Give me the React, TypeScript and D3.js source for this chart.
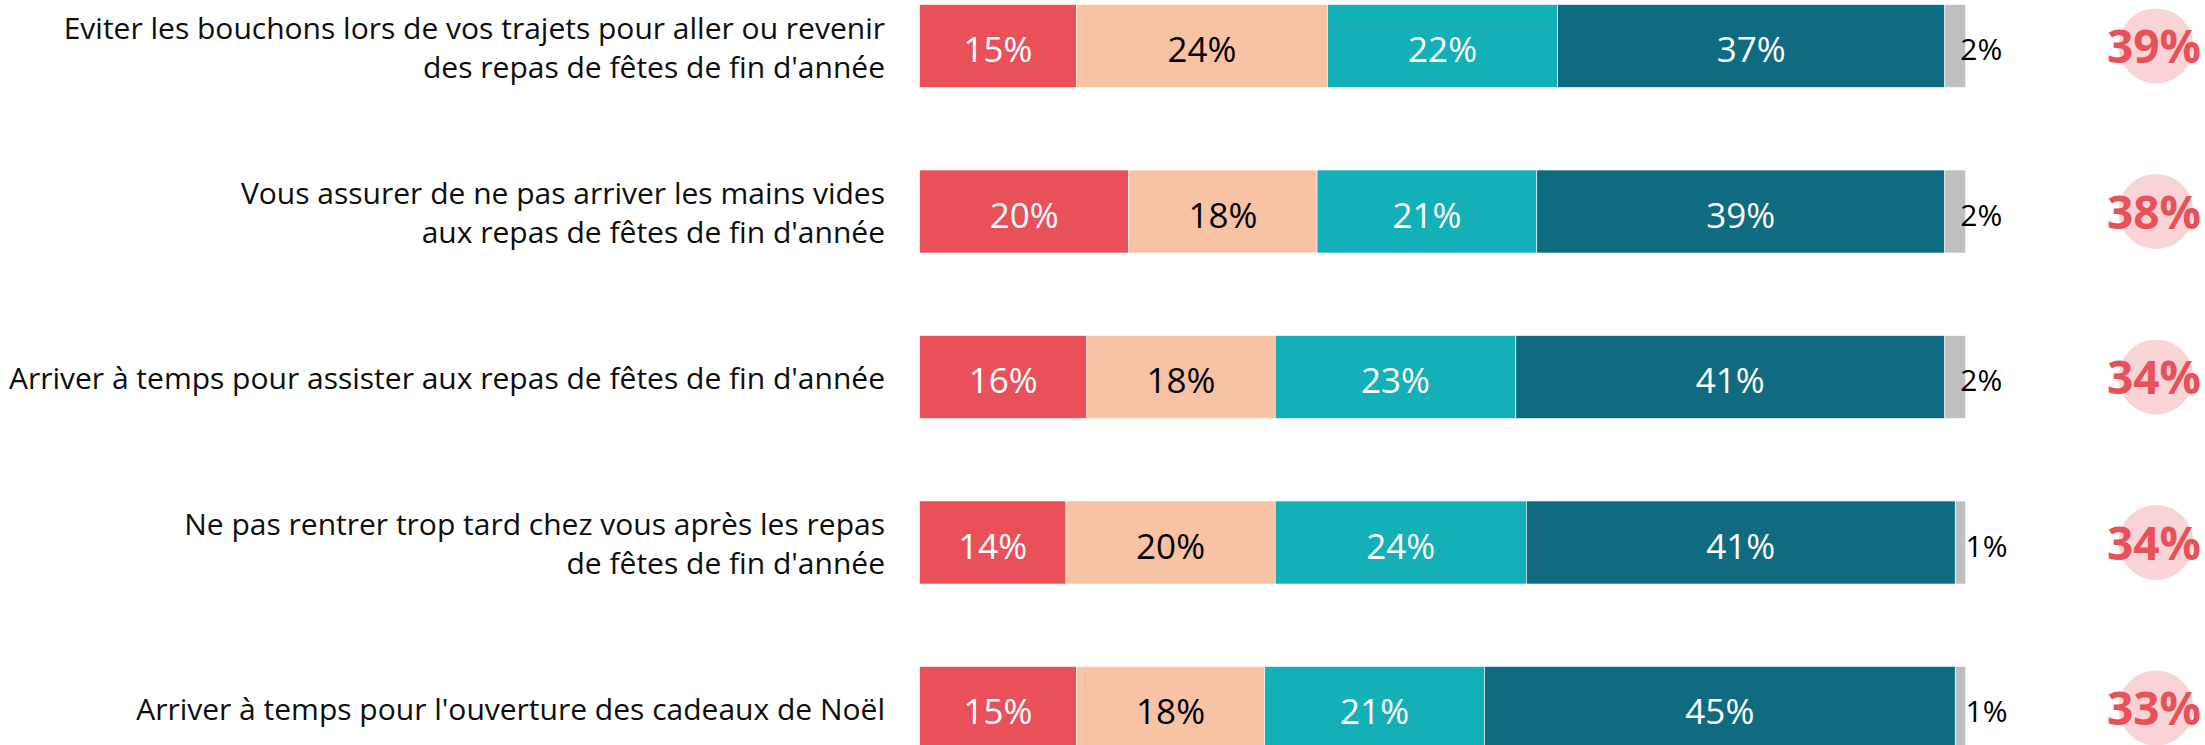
import React from "react";
import * as d3 from "d3";

const categories: string[][] = [
  ["Eviter les bouchons lors de vos trajets pour aller ou revenir", "des repas de fêtes de fin d'année"],
  ["Vous assurer de ne pas arriver les mains vides", "aux repas de fêtes de fin d'année"],
  ["Arriver à temps pour assister aux repas de fêtes de fin d'année"],
  ["Ne pas rentrer trop tard chez vous après les repas", "de fêtes de fin d'année"],
  ["Arriver à temps pour l'ouverture des cadeaux de Noël"],
];

const seriesA = [15, 20, 16, 14, 15];
const seriesB = [24, 18, 18, 20, 18];
const seriesC = [22, 21, 23, 24, 21];
const seriesD = [37, 39, 41, 41, 45];
const seriesE = [2, 2, 2, 1, 1];
const totals = [39, 38, 34, 34, 33];

const seriesList = [
  { values: seriesA, color: "#e8515a", text: "#ffffff" },
  { values: seriesB, color: "#f7c3a4", text: "#000000" },
  { values: seriesC, color: "#14b0b8", text: "#ffffff" },
  { values: seriesD, color: "#0f6c80", text: "#ffffff" },
  { values: seriesE, color: "#bfbfbf", text: "#000000" },
];

const W = 2205;
const H = 745;
const FONT = "'Segoe UI', 'Open Sans', 'Noto Sans', sans-serif";

export default function App() {
  const idx = categories.map((_, i) => String(i));
  const y = d3.scalePoint<string>().domain(idx).range([46, 708]);
  const x = d3.scaleLinear().domain([0, 100]).range([919.5, 1965.7]);
  const barH = 83;
  const labelX = 885;
  const lineGap = 39;

  return (
    <svg
      width={W}
      height={H}
      style={{ position: "absolute", left: 0, top: 0, background: "#fff" }}
      fontFamily={FONT}
    >
      {idx.map((k, i) => {
        const cy = y(k)!;
        const lines = categories[i];
        let acc = 0;
        const segs = seriesList.map((s, j) => {
          const v = s.values[i];
          const x0 = x(acc);
          acc += v;
          const x1 = x(acc);
          return { x0, x1, v, j, s };
        });
        const gray = segs[4];
        return (
          <g key={k}>
            {lines.map((ln, li) => {
              const off = (li - (lines.length - 1) / 2) * lineGap;
              return (
                <text
                  key={li}
                  x={labelX}
                  y={cy + off + 12}
                  textAnchor="end"
                  fontSize={30}
                  fill="#0d0d0d"
                >
                  {ln}
                </text>
              );
            })}
            {segs.map((sg) => (
              <rect
                key={sg.j}
                x={sg.x0}
                y={cy - barH / 2}
                width={sg.x1 - sg.x0}
                height={barH}
                fill={sg.s.color}
                stroke="#ffffff"
                strokeWidth={0.6}
              />
            ))}
            {segs.slice(0, 4).map((sg) => (
              <text
                key={"t" + sg.j}
                x={(sg.x0 + sg.x1) / 2}
                y={cy + 16}
                textAnchor="middle"
                fontSize={35}
                fill={sg.s.text}
              >
                {sg.v}%
              </text>
            ))}
            <text
              x={(gray.x0 + gray.x1) / 2 + 5}
              y={cy + 14}
              textAnchor="start"
              fontSize={30}
              fill="#000"
            >
              {seriesE[i]}%
            </text>
            <circle cx={2156} cy={cy} r={37.5} fill="#f8d4d6" />
            <text
              x={2154}
              y={cy + 17}
              textAnchor="middle"
              fontSize={46}
              fontWeight={700}
              fill="#e8515a"
            >
              {totals[i]}%
            </text>
          </g>
        );
      })}
    </svg>
  );
}
